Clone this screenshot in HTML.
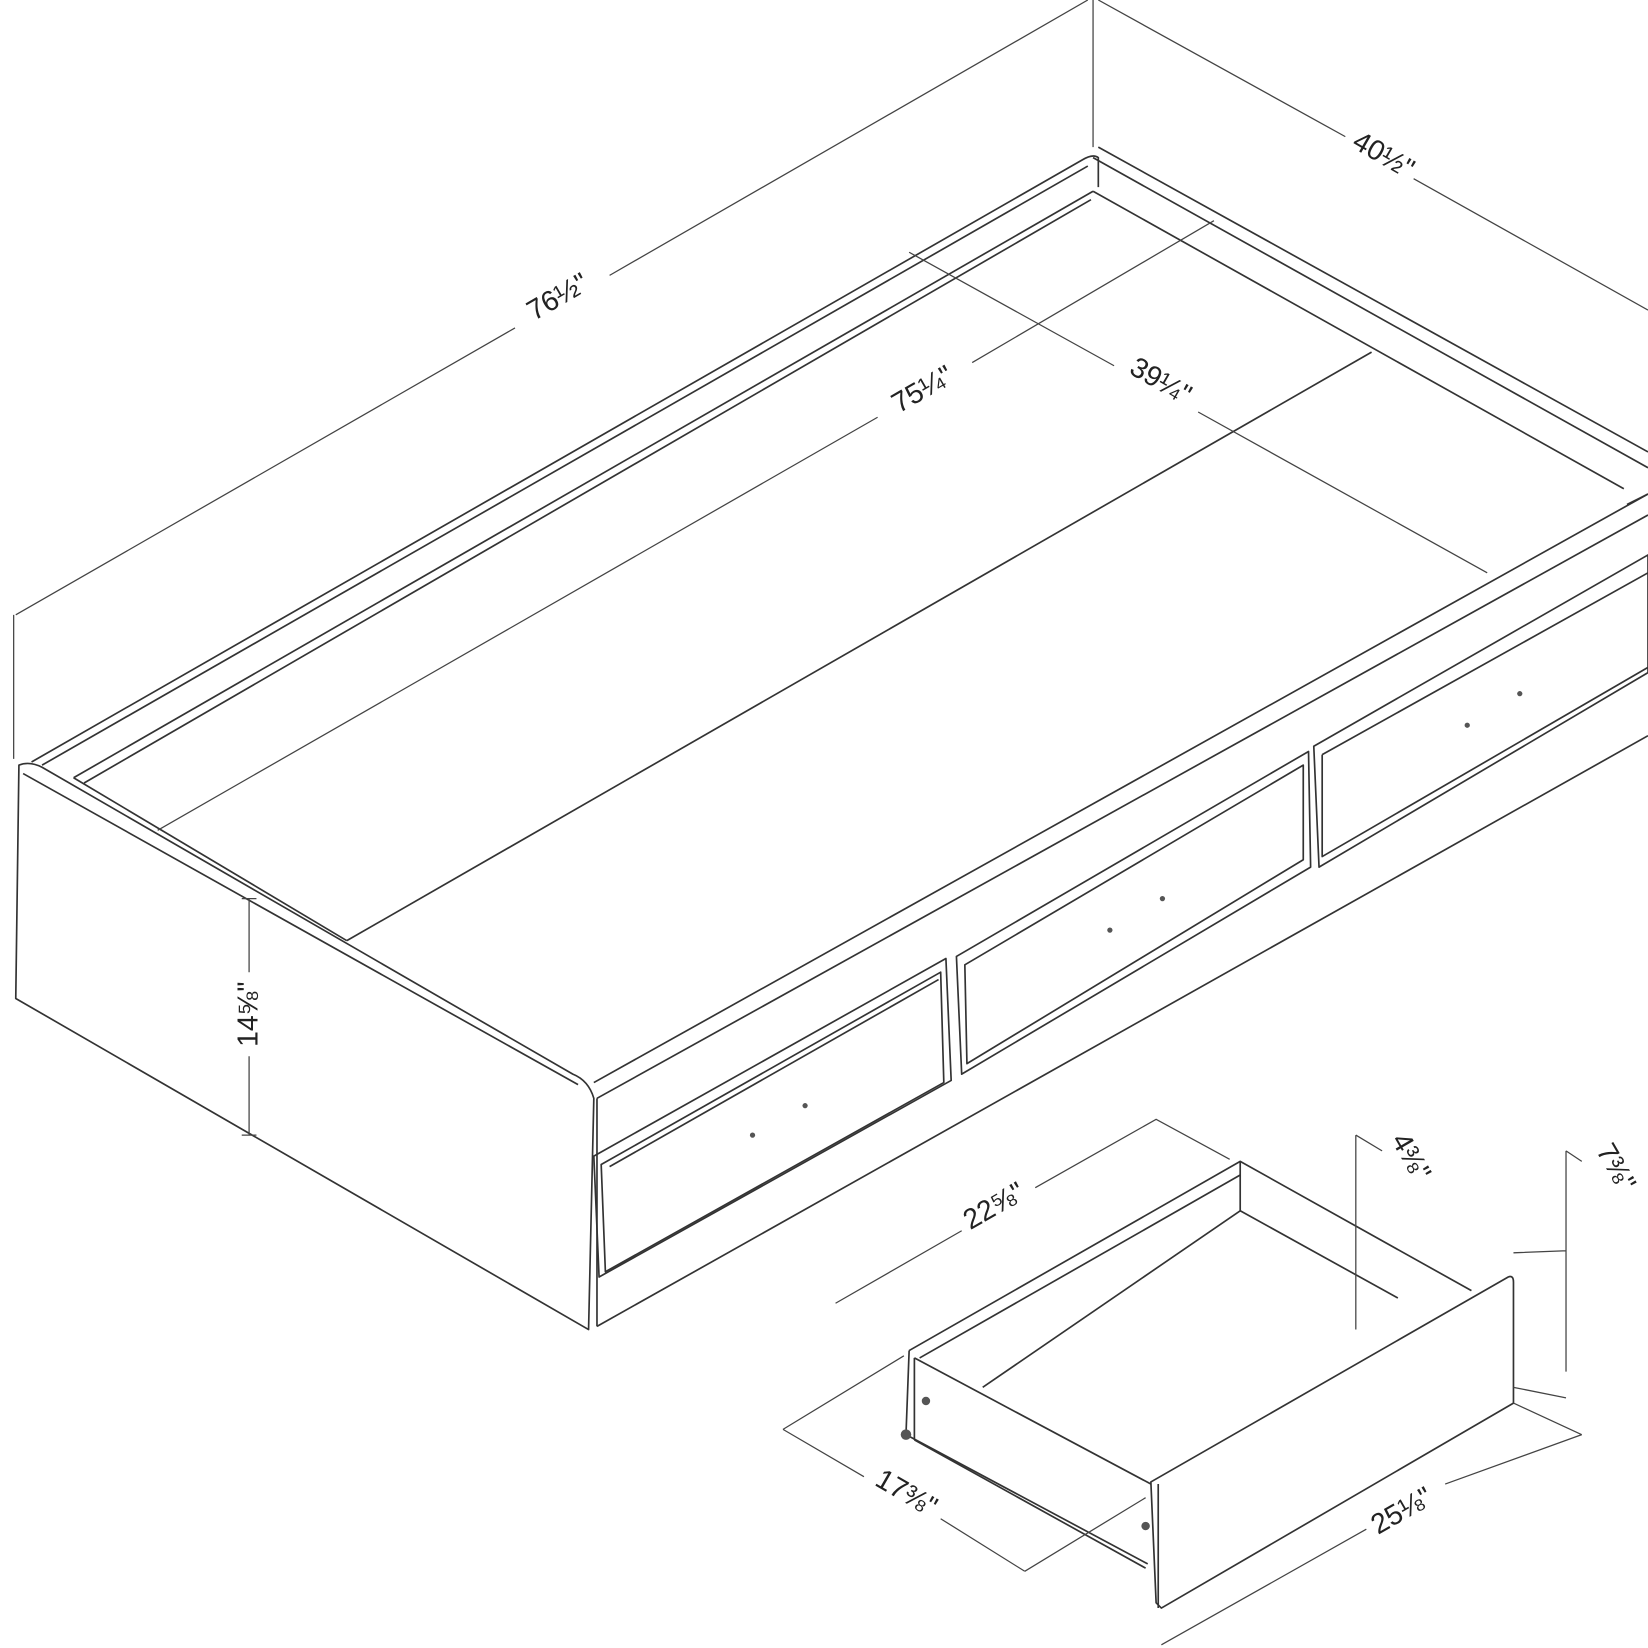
<!DOCTYPE html>
<html><head><meta charset="utf-8"><style>
html,body{margin:0;padding:0;background:#fff;}
svg{display:block}
text{font-family:"Liberation Sans",sans-serif;fill:#222;font-size:27px}
</style></head><body>
<svg width="1648" height="1648" viewBox="0 0 1568 1568" xmlns="http://www.w3.org/2000/svg">
<g fill="none" stroke="#333" stroke-width="1.6" stroke-linejoin="round">
<path d="M18,728 L15,950 L560,1265 L565,1045 Q560,1028 545,1022 L40,730 Q28,724 18,728 Z"/>
<path d="M22,736 L550,1032"/>
<path d="M568,1045 L568,1262"/>
<path d="M30,725 L1030,152 Q1040,146 1045,150 L1045,178"/>
<path d="M70,740 L1040,182"/>
<path d="M40,728 L1035,158"/>
<path d="M80,745 L1038,190"/>
<path d="M1045,140 L1568,430"/>
<path d="M1040,150 L1568,445"/>
<path d="M1040,182 L1545,465"/>
<path d="M330,895 L1305,335"/>
<path d="M70,740 L330,895"/>
<path d="M565,1030 L1568,470"/>
<path d="M568,1045 L1568,490"/>
<path d="M1548,480 L1568,470"/>
<path d="M568,1262 L1568,700"/>
<path d="M565,1100 L900,912 L905,1028 L570,1215 Z"/>
<path d="M572,1108 L895,925 L898,1030 L576,1210 Z"/>
<path d="M580,1110 L893,932"/>
<path d="M910,910 L1245,715 L1247,825 L915,1022 Z"/>
<path d="M918,918 L1240,728 L1240,818 L920,1012 Z"/>
<path d="M1250,710 L1568,528 L1568,640 L1255,825 Z"/>
<path d="M1258,718 L1568,545"/>
<path d="M1258,718 L1258,815 L1568,635"/>
<path d="M865,1285 L1180,1105 L1400,1228"/>
<path d="M875,1292 L1180,1118"/>
<path d="M1180,1105 L1180,1152 L1330,1235"/>
<path d="M935,1320 L1180,1152"/>
<path d="M865,1285 L862,1365 L1092,1488"/>
<path d="M870,1292 L870,1370"/>
<path d="M870,1292 L1095,1412"/>
<path d="M1095,1410 L1435,1215 Q1440,1213 1440,1220 L1440,1335 L1105,1530 L1100,1525 Z"/>
<path d="M1102,1412 L1102,1530"/>
<path d="M870,1370 L1090,1492"/>
</g>
<g fill="#555">
<circle cx="766" cy="1052" r="2.5"/><circle cx="716" cy="1080" r="2.5"/>
<circle cx="1106" cy="855" r="2.5"/><circle cx="1056" cy="885" r="2.5"/>
<circle cx="1446" cy="660" r="2.5"/><circle cx="1396" cy="690" r="2.5"/>
<circle cx="881" cy="1333" r="4"/><circle cx="862" cy="1365" r="5"/><circle cx="1090" cy="1452" r="4"/>
</g>
<g fill="none" stroke="#444" stroke-width="1.2">
<path d="M15,585 L490,312 M580,262 L1035,0"/>
<path d="M13,585 L13,722 M1040,0 L1040,140"/>
<path d="M1045,0 L1280,130 M1345,170 L1568,295"/>
<path d="M150,790 L835,397 M925,345 L1155,210"/>
<path d="M865,240 L1060,348 M1140,392 L1415,545"/>
<path d="M237,855 L237,925 M237,1005 L237,1080 M230,855 L244,855 M230,1080 L244,1080"/>
<path d="M795,1240 L915,1171 M985,1130 L1100,1065 L1170,1103"/>
<path d="M1290,1080 L1290,1265 M1290,1080 L1315,1095"/>
<path d="M1490,1095 L1490,1305 M1490,1095 L1505,1105 M1440,1192 L1490,1190 M1440,1320 L1490,1330"/>
<path d="M745,1360 L822,1405 M895,1445 L975,1495 M745,1360 L860,1290 M975,1495 L1090,1425"/>
<path d="M1105,1565 L1300,1455 M1375,1412 L1505,1365 M1440,1335 L1505,1365"/>
</g>
<text transform="translate(535,290) rotate(-30)" text-anchor="middle">76½"</text>
<text transform="translate(1312,155) rotate(30)" text-anchor="middle">40½"</text>
<text transform="translate(882,378) rotate(-30)" text-anchor="middle">75¼"</text>
<text transform="translate(1100,370) rotate(30)" text-anchor="middle">39¼"</text>
<text transform="translate(245,965) rotate(-90)" text-anchor="middle">14⅝"</text>
<text transform="translate(950,1155) rotate(-30)" text-anchor="middle">22⅝"</text>
<text transform="translate(1335,1105) rotate(60)" text-anchor="middle" font-size="24">4⅜"</text>
<text transform="translate(1530,1115) rotate(60)" text-anchor="middle" font-size="24">7⅜"</text>
<text transform="translate(858,1428) rotate(30)" text-anchor="middle">17⅜"</text>
<text transform="translate(1338,1445) rotate(-30)" text-anchor="middle">25⅛"</text>
</svg>
</body></html>
